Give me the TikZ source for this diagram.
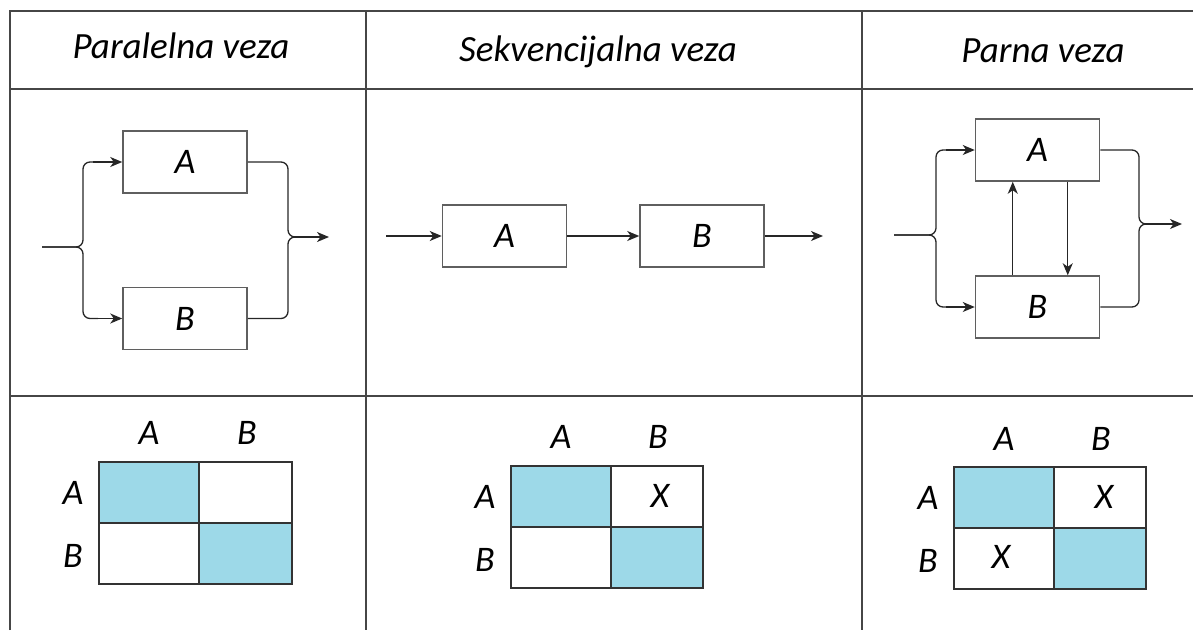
\documentclass[tikz,border=0pt]{standalone}
\usepackage{fontspec}
\setmainfont{Carlito}
\usetikzlibrary{arrows.meta}
\definecolor{cellblue}{RGB}{157,217,232}
\definecolor{linegray}{RGB}{70,70,70}
\definecolor{boxgray}{RGB}{95,95,95}
\begin{document}
\begin{tikzpicture}[x=1pt,y=-1pt,
  tbl/.style={draw=linegray,line width=1.4pt},
  blk/.style={draw=boxgray,line width=1.5pt,minimum width=124pt,minimum height=62pt,inner sep=0pt,font=\fontsize{36}{40}\selectfont\itshape},
  conn/.style={draw=black!85,line width=1.3pt},
  brc/.style={conn,rounded corners=7pt},
  arr/.style={conn,-{Stealth[length=12pt,width=10pt,inset=3.5pt]}},
  lbl/.style={inner sep=0pt,font=\fontsize{36}{40}\selectfont\itshape},
  hdr/.style={inner sep=0pt,anchor=base,font=\fontsize{37}{40}\selectfont\itshape},
  cell/.style={draw=black!80,line width=1.2pt,inner sep=0pt,font=\fontsize{36}{40}\selectfont\itshape},
  full/.style={cell,fill=cellblue},
  empt/.style={cell,fill=white}
]
\useasboundingbox (0,0) rectangle (1193,630);
% table
\draw[tbl] (10,630) -- (10,11) -- (1193,11);
\draw[tbl] (10,89) -- (1193,89);
\draw[tbl] (10,396) -- (1193,396);
\draw[tbl] (366,11) -- (366,630);
\draw[tbl] (862,11) -- (862,630);
% headers
\node[hdr] (h1) at (181,58) {Paralelna veza};
\node[hdr] (h2) at (598,61) {Sekvencijalna veza};
\node[hdr] (h3) at (1043,62) {Parna veza};

% ---------- panel 1: parallel ----------
\node[blk] (p1A) at (185,162) {A};
\node[blk] (p1B) at (185,318.5) {B};
\coordinate (p1in) at (42,247);
\coordinate (p1c) at (83,247);
\coordinate (p1o) at (288,237);
\coordinate (p1out) at (329,237);
\draw[brc] (p1in) -- (p1c) -- (p1c |- p1A.west) -- ++(15,0);
\draw[brc] (p1in) -- (p1c) -- (p1c |- p1B.west) -- ++(15,0);
\draw[arr] ([xshift=10pt]p1c |- p1A.west) -- (p1A.west);
\draw[arr] ([xshift=10pt]p1c |- p1B.west) -- (p1B.west);
\draw[brc] (p1A.east) -- (p1o |- p1A.east) -- (p1o) -- ++(12,0);
\draw[brc] (p1B.east) -- (p1o |- p1B.east) -- (p1o) -- ++(12,0);
\draw[arr] ([xshift=6pt]p1o) -- (p1out);

% ---------- panel 2: sequential ----------
\node[blk] (p2A) at (504.5,236) {A};
\node[blk] (p2B) at (702,236) {B};
\coordinate (p2in) at (386,236);
\coordinate (p2out) at (823,236);
\draw[arr] (p2in) -- (p2A.west);
\draw[arr] (p2A.east) -- (p2B.west);
\draw[arr] (p2B.east) -- (p2out);

% ---------- panel 3: pair ----------
\node[blk] (p3A) at (1037.5,150) {A};
\node[blk] (p3B) at (1037.5,307) {B};
\coordinate (p3in) at (894,235);
\coordinate (p3c) at (936,235);
\coordinate (p3o) at (1139,224);
\coordinate (p3out) at (1182,224);
\draw[brc] (p3in) -- (p3c) -- (p3c |- p3A.west) -- ++(15,0);
\draw[brc] (p3in) -- (p3c) -- (p3c |- p3B.west) -- ++(15,0);
\draw[arr] ([xshift=10pt]p3c |- p3A.west) -- (p3A.west);
\draw[arr] ([xshift=10pt]p3c |- p3B.west) -- (p3B.west);
\draw[brc] (p3A.east) -- (p3o |- p3A.east) -- (p3o) -- ++(12,0);
\draw[brc] (p3B.east) -- (p3o |- p3B.east) -- (p3o) -- ++(12,0);
\draw[arr] ([xshift=6pt]p3o) -- (p3out);
\draw[arr] ([xshift=38pt]p3B.north west) -- ([xshift=38pt]p3A.south west);
\draw[arr] ([xshift=93pt]p3A.south west) -- ([xshift=93pt]p3B.north west);

% ---------- matrix 1 ----------
\node[full,minimum width=100pt,minimum height=61pt] (m1aa) at (149,492.5) {};
\node[empt,minimum width=93pt,minimum height=61pt] (m1ab) at (245.5,492.5) {};
\node[empt,minimum width=100pt,minimum height=61pt] (m1ba) at (149,553.5) {};
\node[full,minimum width=93pt,minimum height=61pt] (m1bb) at (245.5,553.5) {};
\node[lbl] (m1cA) at (149,433) {A};
\node[lbl] (m1cB) at (247,433) {B};
\node[lbl] (m1rA) at (73,493) {A};
\node[lbl] (m1rB) at (73,556) {B};

% ---------- matrix 2 ----------
\node[full,minimum width=100pt,minimum height=61pt] (m2aa) at (561,496.5) {};
\node[empt,minimum width=92pt,minimum height=61pt] (m2ab) at (657,496.5) {};
\node[empt,minimum width=100pt,minimum height=61pt] (m2ba) at (561,557.5) {};
\node[full,minimum width=92pt,minimum height=61pt] (m2bb) at (657,557.5) {};
\node[lbl] (m2x) at (660,496) {X};
\node[lbl] (m2cA) at (561,437) {A};
\node[lbl] (m2cB) at (658,437) {B};
\node[lbl] (m2rA) at (485,497) {A};
\node[lbl] (m2rB) at (485,560) {B};

% ---------- matrix 3 ----------
\node[full,minimum width=100pt,minimum height=61pt] (m3aa) at (1004,497.5) {};
\node[empt,minimum width=92pt,minimum height=61pt] (m3ab) at (1100,497.5) {};
\node[empt,minimum width=100pt,minimum height=61pt] (m3ba) at (1004,558.5) {};
\node[full,minimum width=92pt,minimum height=61pt] (m3bb) at (1100,558.5) {};
\node[lbl] (m3x1) at (1104,497) {X};
\node[lbl] (m3x2) at (1001,557) {X};
\node[lbl] (m3cA) at (1004,439) {A};
\node[lbl] (m3cB) at (1101,439) {B};
\node[lbl] (m3rA) at (928,498) {A};
\node[lbl] (m3rB) at (928,561) {B};
\end{tikzpicture}
\end{document}
